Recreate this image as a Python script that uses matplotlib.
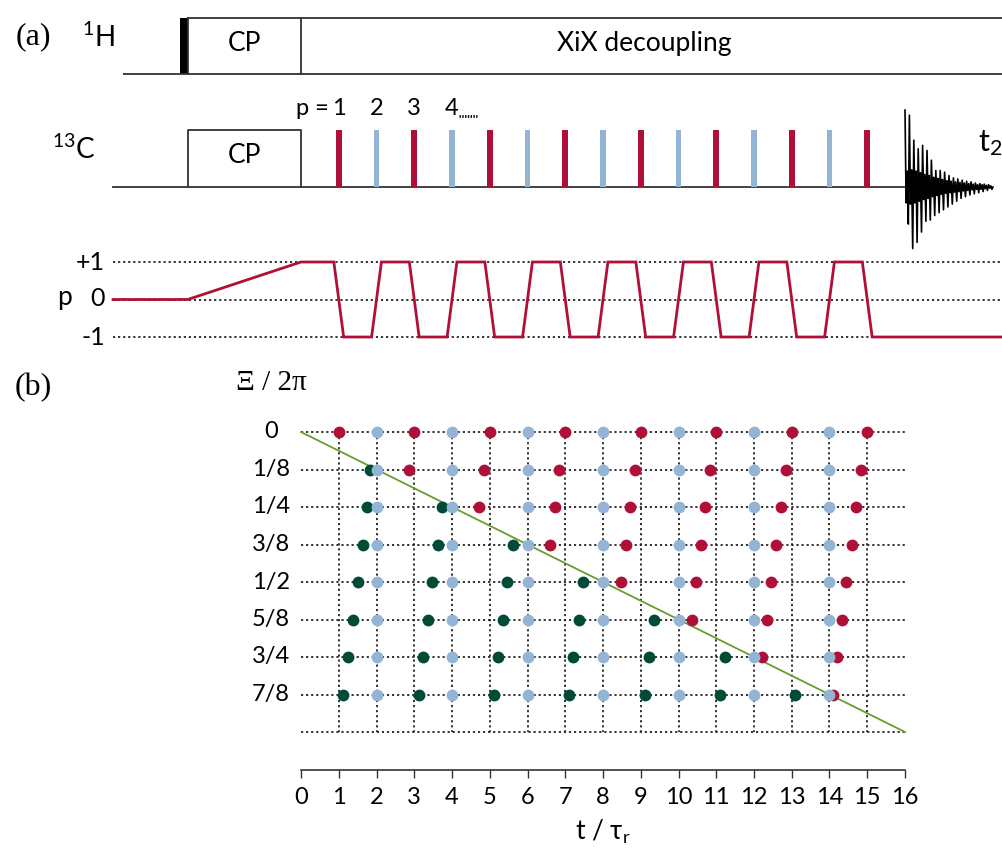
import matplotlib
matplotlib.use('Agg')
import matplotlib.pyplot as plt
import numpy as np
from matplotlib.patches import Rectangle

# ---------------- data ----------------
pulse_times = [1, 2, 3, 4, 5, 6, 7, 8, 9, 10, 11, 12, 13, 14, 15]
pulse_kinds = ['odd', 'even'] * 7 + ['odd']
p_numbers = ['1', '2', '3', '4']

xi_labels = ['0', '1/8', '1/4', '3/8', '1/2', '5/8', '3/4', '7/8']
xi_values = [0, 1/8, 2/8, 3/8, 4/8, 5/8, 6/8, 7/8]
blue_t = [2, 4, 6, 8, 10, 12, 14]
green_t = [
    [],
    [1.84],
    [1.76, 3.74],
    [1.63, 3.64, 5.62],
    [1.50, 3.48, 5.47, 7.48],
    [1.37, 3.36, 5.34, 7.36, 9.35],
    [1.25, 3.24, 5.23, 7.21, 9.23, 11.22],
    [1.12, 3.13, 5.11, 7.11, 9.10, 11.10, 13.09],
]
red_t = [
    [1, 3, 5, 7, 9, 11, 13, 15],
    [2.87, 4.86, 6.84, 8.85, 10.83, 12.84, 14.83],
    [4.72, 6.72, 8.72, 10.71, 12.72, 14.70],
    [6.60, 8.60, 10.60, 12.58, 14.59],
    [8.47, 10.46, 12.46, 14.45],
    [10.35, 12.34, 14.34],
    [12.22, 14.21],
    [14.10],
]
t_ticks = list(range(0, 17))

fid_upper = [1.35, 1.26, 0.82, 0.67, 0.73, 0.64, 0.47, 0.29, 0.29, 0.26,
             0.20, 0.16, 0.14, 0.12, 0.10, 0.09, 0.07, 0.06, 0.05, 0.04]
fid_lower = [0.65, 1.08, 0.97, 0.79, 0.60, 0.58, 0.50, 0.45, 0.40, 0.35,
             0.30, 0.25, 0.20, 0.17, 0.14, 0.12, 0.10, 0.08, 0.06, 0.04]
fid_core = [0.28, 0.30, 0.28, 0.25, 0.22, 0.20, 0.17, 0.15, 0.13, 0.11,
            0.10, 0.09, 0.08, 0.07, 0.06, 0.05, 0.04, 0.04, 0.03, 0.02]

# ---------------- style ----------------
RED = '#b01038'
BLUE = '#94b4d6'
DKGREEN = '#004b38'
LINEGREEN = '#6a9c2e'
INK = '#333333'
DOT = '#222222'

plt.rcParams['font.family'] = ['Lato', 'DejaVu Sans']
plt.rcParams['mathtext.default'] = 'regular'
SERIF = ['Liberation Serif', 'DejaVu Serif']

W, H = 1003, 858
DPI = 100
T0_PX = 301.0
PX_PER_T = 37.75
XL = ((0 - T0_PX) / PX_PER_T, (W - T0_PX) / PX_PER_T)


def px2t(px):
    return (px - T0_PX) / PX_PER_T


fig = plt.figure(figsize=(W / DPI, H / DPI), dpi=DPI)
fig.patch.set_facecolor('white')


def px_axes(top, bot, v_top, v_bot, off=True):
    ax = fig.add_axes([0, 1 - bot / H, 1, (bot - top) / H])
    ax.set_xlim(*XL)
    ax.set_ylim(v_bot, v_top)
    ax.set_facecolor('none')
    if off:
        ax.axis('off')
    return ax


def ftext(xpx, ypx, s, **kw):
    return fig.text(xpx / W, 1 - ypx / H, s, **kw)


DOTS = (0, (1.2, 1.6))

# ---------------- 1H channel ----------------
axH = px_axes(0, 100, 74 / 56, (74 - 100) / 56)
axH.plot([px2t(123), XL[1] + 1], [0, 0], color=INK, lw=1.3, solid_capstyle='butt')
axH.plot([-3, XL[1] + 1], [1, 1], color=INK, lw=1.3)
axH.plot([-3, -3], [0, 1], color=INK, lw=1.3)
axH.plot([0, 0], [0, 1], color=INK, lw=1.3)
axH.add_patch(Rectangle((-3.2, 0), 0.2, 1, facecolor='black', edgecolor='none'))
axH.text(-1.5, 0.55, 'CP', ha='center', va='center', fontsize=19)
axH.text(9.1, 0.55, 'XiX decoupling', ha='center', va='center', fontsize=19)

# ---------------- 13C channel ----------------
axC = px_axes(90, 260, (187 - 90) / 57, (187 - 260) / 57)
axC.plot([px2t(113), 16], [0, 0], color=INK, lw=1.3)
axC.plot([-3, -3, 0, 0], [0, 1, 1, 0], color=INK, lw=1.3)
axC.text(-1.5, 0.55, 'CP', ha='center', va='center', fontsize=19)
colors = [RED if k == 'odd' else BLUE for k in pulse_kinds]
axC.bar(pulse_times, [1] * len(pulse_times), width=0.15, bottom=0,
        color=colors, edgecolor='none', zorder=3)
# FID
fid_vals = []
for u, l, c in zip(fid_upper, fid_lower, fid_core):
    fid_vals += [u, -c, c, -l]
fid_vals.append(0.0)
fid_x = np.linspace(16, px2t(993), len(fid_vals))
axC.plot(fid_x, fid_vals, color='black', lw=1.2, zorder=4)
# p = 1 2 3 4 ...
yp = (187 - 108.5) / 57
axC.text(px2t(329), yp, 'p =', ha='right', va='center', fontsize=17)
for i, s in enumerate(p_numbers):
    axC.text(pulse_times[i], yp, s, ha='center', va='center', fontsize=17)
axC.plot([px2t(459), px2t(477)], [(187 - 116) / 57] * 2, color='black',
         lw=2.0, linestyle=(0, (0.5, 0.5)))

# ---------------- p levels ----------------
axP = px_axes(240, 360, (299.5 - 240) / 37.5, (299.5 - 360) / 37.5)
for lv in (1, 0, -1):
    axP.plot([px2t(113), XL[1] + 1], [lv, lv], color=DOT, lw=1.3, linestyle=DOTS)
half = 0.13
pt = [px2t(113), -3, 0]
pv = [0, 0, 1]
level = 1
for t, k in zip(pulse_times, pulse_kinds):
    new = -1 if k == 'odd' else 1
    pt += [t - half, t + half]
    pv += [level, new]
    level = new
pt.append(XL[1] + 1)
pv.append(level)
axP.plot(pt, pv, color=RED, lw=2.0, zorder=3, solid_joinstyle='miter')

# ---------------- (b) grid ----------------
axB = px_axes(360, 858, (360 - 432) / 300, (858 - 432) / 300, off=False)
for v in xi_values + [1.0]:
    axB.plot([0, 16], [v, v], color=DOT, lw=1.3, linestyle=DOTS, zorder=1)
for t in pulse_times:
    axB.plot([t, t], [0, 1], color=DOT, lw=1.3, linestyle=DOTS, zorder=1)
axB.plot([0, 16], [0, 1], color=LINEGREEN, lw=1.3, zorder=2)
for v, gts, rts in zip(xi_values, green_t, red_t):
    axB.plot(gts, [v] * len(gts), 'o', color=DKGREEN, ms=8.5, mec='none', zorder=3)
    axB.plot(rts, [v] * len(rts), 'o', color=RED, ms=8.5, mec='none', zorder=3)
    axB.plot(blue_t, [v] * len(blue_t), 'o', color=BLUE, ms=8.5, mec='none', zorder=4)
for v, s in zip(xi_values, xi_labels):
    axB.text(px2t(271), v, s, ha='center', va='center', fontsize=17)

for side in ('left', 'right', 'top'):
    axB.spines[side].set_visible(False)
axB.spines['bottom'].set_position(('data', (770 - 432) / 300))
axB.spines['bottom'].set_bounds(0, 16)
axB.spines['bottom'].set_color(INK)
axB.spines['bottom'].set_linewidth(1.2)
axB.set_yticks([])
axB.set_xticks(t_ticks)
axB.set_xticklabels([str(t) for t in t_ticks], fontsize=17)
axB.tick_params(axis='x', direction='out', length=6, width=1.0, color=INK, pad=6)
axB.text(8, (832 - 432) / 300, 't / τ$_r$', ha='center', va='center', fontsize=19)

# ---------------- labels ----------------
ftext(33, 37, '(a)', ha='center', va='center', fontsize=23, family=SERIF)
ftext(33, 388, '(b)', ha='center', va='center', fontsize=23, family=SERIF)
ftext(271, 383, 'Ξ / 2π', ha='center', va='center', fontsize=21, family=SERIF)
ftext(115, 47, '$^{1}$H', ha='right', va='baseline', fontsize=20)
ftext(96, 159, '$^{13}$C', ha='right', va='baseline', fontsize=20)
ftext(978, 151, 't$_2$', ha='left', va='baseline', fontsize=22)
ftext(105, 262, '+1', ha='right', va='center', fontsize=18)
ftext(105, 299, '0', ha='right', va='center', fontsize=18)
ftext(105, 337, '-1', ha='right', va='center', fontsize=18)
ftext(65, 297, 'p', ha='center', va='center', fontsize=19)

fig.savefig('out.png', dpi=DPI, facecolor='white')
